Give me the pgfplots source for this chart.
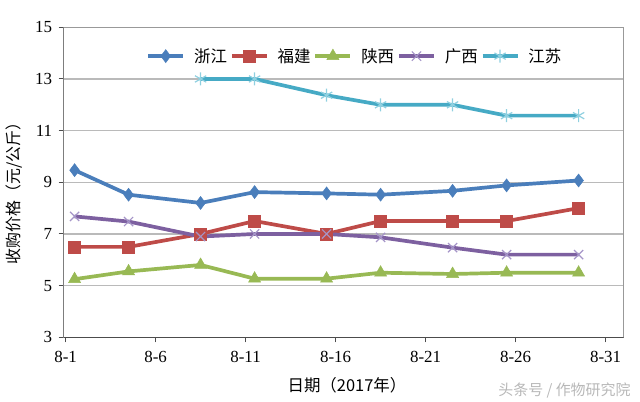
\documentclass[border=0pt]{standalone}
\usepackage{fontspec}
\setmainfont{Liberation Serif}
\newfontfamily\cjk{Noto Sans CJK SC}
\usepackage{pgfplots}
\usepackage{pgfplotstable}
\pgfplotsset{compat=1.18}
\definecolor{zj}{HTML}{4A7EBB}
\definecolor{fj}{HTML}{BE4B48}
\definecolor{sx}{HTML}{98B954}
\definecolor{gx}{HTML}{7D60A0}
\definecolor{gxm}{HTML}{A595C8}
\definecolor{js}{HTML}{46AAC5}
\definecolor{jsm}{HTML}{8FD0E0}
\pgfplotstableread{
day zj fj sx gx js
1.5 9.47 6.5 5.25 7.68 nan
4.5 8.52 6.5 5.55 7.48 nan
8.5 8.2 7.0 5.8 6.9 13.0
11.5 8.62 7.5 5.27 7.0 13.0
15.5 8.57 7.0 5.27 7.0 12.37
18.5 8.52 7.5 5.5 6.87 12.0
22.5 8.67 7.5 5.45 6.47 12.0
25.5 8.88 7.5 5.5 6.2 11.58
29.5 9.07 8.0 5.5 6.2 11.58
}\datatable
\begin{document}
\begin{tikzpicture}
\begin{axis}[
  scale only axis, width=560bp, height=310bp,
  xmin=0.89, xmax=32, ymin=3, ymax=15,
  xtick={1,6,11,16,21,26,31},
  xticklabels={8-1,8-6,8-11,8-16,8-21,8-26,8-31},
  ytick={3,5,...,15},
  ymajorgrids, grid style={color=black!27, line width=1.1bp},
  axis line style={color=black!40, line width=1bp},
  tick align=outside, tick pos=left, major tick length=5bp,
  tick style={color=black!70, line width=1bp},
  /pgf/number format/assume math mode=true,
  ticklabel style={font=\fontsize{17}{20}\selectfont},
  yticklabel style={xshift=-3bp},
  xticklabel style={yshift=-5bp},
  xlabel={\cjk 日期（2017年）},
  xlabel style={at={(axis description cs:0.506,-0.154)}, anchor=center, font=\fontsize{16.5}{19}\selectfont},
  ylabel={\cjk 收购价格（元/公斤）},
  ylabel style={at={(axis description cs:-0.0875,0.477)}, anchor=center, font=\fontsize{16}{19}\selectfont},
  legend columns=5,
  legend style={draw=none, fill=none, at={(axis description cs:0.521,0.907)}, anchor=center,
    font=\cjk\fontsize{16.5}{19}\selectfont,
    nodes={inner xsep=3bp},
    /tikz/every odd column/.append style={column sep=6bp}},
  legend image code/.code={\draw[mark repeat=2,mark phase=2] plot coordinates {(0bp,0bp) (17.5bp,0bp) (35bp,0bp)};},
]
\addplot[zj, line width=3.7bp, mark=diamond*, mark size=6.5bp, mark options={fill=zj, line width=0.5bp}] table[x=day,y=zj] {\datatable};
\addlegendentry{浙江}
\addplot[fj, line width=3.7bp, mark=square*, mark size=6bp, mark options={fill=fj, line width=0.5bp}] table[x=day,y=fj] {\datatable};
\addlegendentry{福建}
\addplot[sx, line width=3.7bp, mark=triangle*, mark size=7bp, mark options={fill=sx, line width=0.5bp}] table[x=day,y=sx] {\datatable};
\addlegendentry{陕西}
\addplot[gx, line width=3.7bp, mark=x, mark size=6.5bp, mark options={draw=gxm, line width=1.2bp}] table[x=day,y=gx] {\datatable};
\addlegendentry{广西}
\addplot[js, line width=3.7bp, mark=asterisk, mark size=6.5bp, mark options={draw=jsm, line width=1.2bp}] table[x=day,y=js] {\datatable};
\addlegendentry{江苏}
\draw[black!70, line width=1bp] (rel axis cs:0,1) -- (rel axis cs:0,0) -- (rel axis cs:1,0);
\end{axis}
\node[anchor=east, text=black!28, font=\cjk\fontsize{15}{17}\selectfont] at ([shift={(10.4bp,-52.7bp)}]current axis.south east) {头条号 / 作物研究院};
\pgfresetboundingbox
\path ([shift={(-63.6bp,-64.7bp)}]current axis.south west) rectangle ([shift={(16.4bp,27.3bp)}]current axis.north east);
\end{tikzpicture}
\end{document}
